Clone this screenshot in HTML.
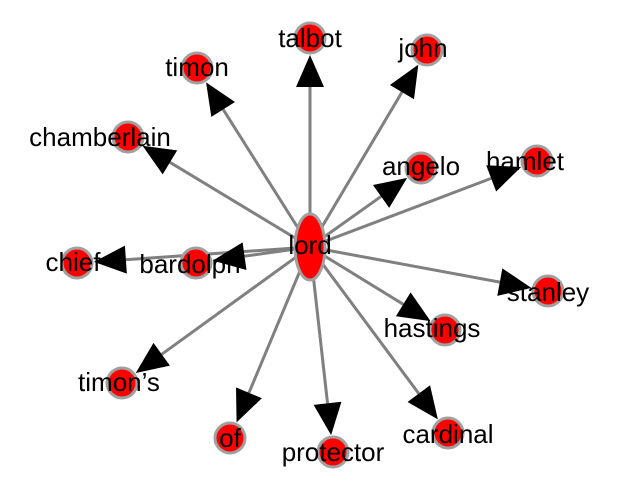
<!DOCTYPE html>
<html><head><meta charset="utf-8"><style>
html,body{margin:0;padding:0;background:#fff;width:620px;height:498px;overflow:hidden}
text{font-family:"Liberation Sans",Arial,sans-serif;font-size:26px;fill:#000;text-anchor:middle;dominant-baseline:central}
</style></head><body>
<svg id="s" width="620" height="498" xmlns="http://www.w3.org/2000/svg"></svg>
<script>
const s=document.getElementById('s');
const C=[310,247];
const N=[["talbot",310,38,310,38],["timon",197,68,197,67],["john",427,50,423,48],["chamberlain",128,137,100,137],
["angelo",421,168,421,166],["hamlet",537,161,525,161],["chief",77,263,73,262],["bardolph",196,263,190,264],
["stanley",548,291,548,292],["hastings",445,330,432,328],["timon\u2019s",122,383,119,382],["of",230,438,230,438],
["protector",333,452,333,452],["cardinal",448,433,448,434]];
let E='',A='',V='',T='';
for(const [n,x,y,lx,ly] of N){
 const dx=x-C[0],dy=y-C[1],L=Math.hypot(dx,dy),ux=dx/L,uy=dy/L;
 const tx=x-ux*17,ty=y-uy*17,bx=tx-ux*32,by=ty-uy*32;
 E+=`<line x1="${C[0]}" y1="${C[1]}" x2="${bx}" y2="${by}" stroke="#808080" stroke-width="3"/>`;
 A+=`<polygon points="${tx},${ty} ${bx-uy*14},${by+ux*14} ${bx+uy*14},${by-ux*14}" fill="#000"/>`;
 V+=`<circle cx="${x}" cy="${y}" r="15" fill="#f00" stroke="#a0a0a0" stroke-width="3"/>`;
 T+=`<text x="${lx}" y="${ly}">${n}</text>`;
}
V+=`<ellipse cx="310" cy="247" rx="15" ry="33" fill="#f00" stroke="#a0a0a0" stroke-width="3"/>`;
T+=`<text x="310" y="245">lord</text>`;
s.innerHTML=E+V+A+T;
</script>
</body></html>
